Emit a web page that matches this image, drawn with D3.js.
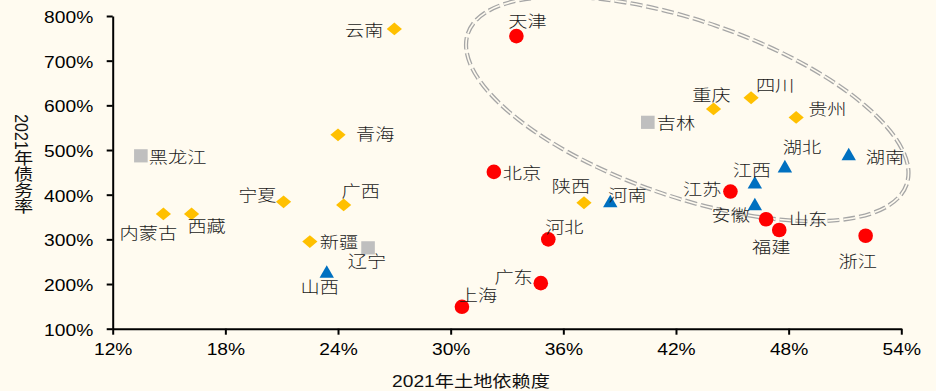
<!DOCTYPE html>
<html>
<head>
<meta charset="utf-8">
<script src="https://cdn.jsdelivr.net/npm/d3@7"></script>
<style>
  html, body { margin: 0; padding: 0; background: #FFFBF0; }
  svg { display: block; }
</style>
</head>
<body>
<svg id="chart" width="936" height="391"></svg>
<script>
// ---- data ----
const provinces = ["云南","天津","青海","北京","黑龙江","宁夏","内蒙古","西藏","新疆","广西","辽宁","山西","上海","广东","河北","陕西","河南","吉林","重庆","四川","贵州","湖北","湖南","江西","江苏","安徽","山东","福建","浙江"];
// 2021 land dependence (%)
const landDependence = [27.0,33.5,24.0,32.3,13.5,21.1,14.7,16.2,22.5,24.3,25.6,23.4,30.6,34.8,35.2,37.1,38.5,40.5,44.0,46.0,48.4,47.8,51.2,46.2,44.9,46.2,46.8,47.5,52.1];
// 2021 debt ratio (%)
const debtRatio = [771,755,534,451,487,384,357,357,295,377,281,228,149,202,300,382,386,562,592,617,573,464,491,428,407,379,345,321,308];
// region of each province
const regionGroup = ["west","east","west","east","northeast","west","west","west","west","west","northeast","central","east","east","east","west","central","northeast","west","west","west","central","central","central","east","central","east","east","east"];

const xTickValues = [12,18,24,30,36,42,48,54];
const yTickValues = [100,200,300,400,500,600,700,800];
const xAxisTitle = "2021年土地依赖度";
const yAxisTitle = "2021年债务率";

// ---- label placement relative to each marker: [dx, dy, anchor] ----
const labelAt = {
  "黑龙江":[8,0,"start"], "云南":[-11,0,"end"], "天津":[11,-16,"middle"],
  "青海":[18,-2,"start"], "北京":[9,0,"start"], "陕西":[-13,-18,"middle"],
  "河南":[-2,-7,"start"], "吉林":[9,0,"start"], "重庆":[-2,-15,"middle"],
  "四川":[24,-14,"middle"], "贵州":[12,-9,"start"], "湖北":[17,-20,"middle"],
  "湖南":[17,2,"start"], "江西":[-3,-13,"middle"], "江苏":[-9,-3,"end"],
  "安徽":[-5,10,"end"], "山东":[23,-1,"start"], "福建":[-8,16,"middle"],
  "浙江":[-8,24,"middle"], "河北":[16,-13,"middle"], "广东":[-8,-7,"end"],
  "上海":[16,-13,"middle"], "山西":[-7,15,"middle"], "辽宁":[-1,12,"middle"],
  "新疆":[10,0,"start"], "广西":[17,-15,"middle"], "宁夏":[-7,-8,"end"],
  "内蒙古":[-15,18,"middle"], "西藏":[15,11,"middle"]
};

// ---- styling ----
const BG = "#FFFBF0";
const SX = 1.2;                       // horizontal text stretch
const NUM_FONT = "'Liberation Sans', Arial, 'Noto Sans CJK SC', sans-serif";
const CJK_FONT = "'Noto Sans CJK SC', sans-serif";

const regionFill = { east:"#FF0000", central:"#0070C0", west:"#FFC000", northeast:"#BFBFBF" };

// custom marker shapes (bounding box centred on the point)
const shapes = {
  east:   { draw(c){ c.moveTo(7.3,0); c.arc(0,0,7.3,0,Math.PI*2); } },
  central:{ draw(c){ c.moveTo(0,-6.3); c.lineTo(7.2,6.3); c.lineTo(-7.2,6.3); c.closePath(); } },
  west:   { draw(c){ c.moveTo(0,-6.4); c.lineTo(7.6,0); c.lineTo(0,6.4); c.lineTo(-7.6,0); c.closePath(); } },
  northeast:{ draw(c){ c.rect(-6.8,-6.6,13.6,13.2); } }
};

const svg = d3.select("#chart");
svg.append("rect").attr("width",936).attr("height",391).attr("fill",BG);

const x = d3.scaleLinear().domain([12,54]).range([112.7,901.3]);
const y = d3.scaleLinear().domain([100,800]).range([328.7,16]);

// ---- axes ----
const xAxis = svg.append("g")
  .attr("transform",`translate(0,${y(100)})`)
  .call(d3.axisBottom(x).tickValues(xTickValues).tickFormat(d=>d+"%").tickSize(6).tickSizeOuter(0));
const yAxis = svg.append("g")
  .attr("transform",`translate(${x(12)},0)`)
  .call(d3.axisLeft(y).tickValues(yTickValues).tickFormat(d=>d+"%").tickSize(6).tickSizeOuter(0));

[xAxis,yAxis].forEach(g=>{
  g.select(".domain").attr("stroke","#000").attr("stroke-width",2);
  g.selectAll(".tick line").attr("stroke","#000").attr("stroke-width",2);
  g.selectAll(".tick text").attr("fill","#000").style("font-family",NUM_FONT).style("font-size","16px");
});
xAxis.selectAll(".tick text").attr("y",0).attr("dy",null)
  .attr("dominant-baseline","central")
  .attr("transform",`translate(0,21) scale(${SX},1)`);
yAxis.selectAll(".tick text").attr("x",0).attr("dy",null)
  .attr("dominant-baseline","central")
  .attr("transform",`translate(-19.5,1) scale(${SX},1)`);

// ---- axis titles ----
svg.append("text")
  .attr("transform",`translate(${(x(12)+x(54))/2 - 36},382) scale(${SX},1)`)
  .attr("text-anchor","middle").attr("dominant-baseline","central")
  .style("font-family",NUM_FONT).style("font-size","16px").attr("fill","#111")
  .text(xAxisTitle);

svg.append("text")
  .attr("transform",`translate(22,164) scale(${SX},1)`)
  .attr("text-anchor","middle")
  .style("writing-mode","vertical-rl")
  .style("font-family",NUM_FONT).style("font-size","16px").attr("fill","#111")
  .text(yAxisTitle);

// ---- highlight ellipse (double dashed outline) ----
const ell = svg.append("g")
  .attr("transform",`translate(${x(42.6)},${y(592)}) rotate(19)`);
ell.append("ellipse").attr("rx",232).attr("ry",88)
  .attr("fill","none").attr("stroke","#A6A6A6").attr("stroke-width",4.2)
  .attr("stroke-dasharray","12,4");
ell.append("ellipse").attr("rx",232).attr("ry",88)
  .attr("fill","none").attr("stroke",BG).attr("stroke-width",1.6)
  .attr("stroke-dasharray","12,4");

// ---- points ----
const rows = provinces.map((name,i)=>({name, lx:landDependence[i], dy:debtRatio[i], g:regionGroup[i]}));

svg.append("g").selectAll("path").data(rows).join("path")
  .attr("transform",d=>`translate(${x(d.lx)},${y(d.dy)})`)
  .attr("d",d=>d3.symbol().type(shapes[d.g])())
  .attr("fill",d=>regionFill[d.g]);

// ---- labels ----
svg.append("g").selectAll("text").data(rows).join("text")
  .attr("transform",d=>{
    const p = labelAt[d.name];
    return `translate(${x(d.lx)+p[0]},${y(d.dy)+p[1]}) scale(${SX},1)`;
  })
  .attr("text-anchor",d=>labelAt[d.name][2])
  .attr("dominant-baseline","central")
  .style("font-family",CJK_FONT).style("font-size","16px").style("font-weight",300).attr("fill","#1a1a1a")
  .text(d=>d.name);
</script>
</body>
</html>
